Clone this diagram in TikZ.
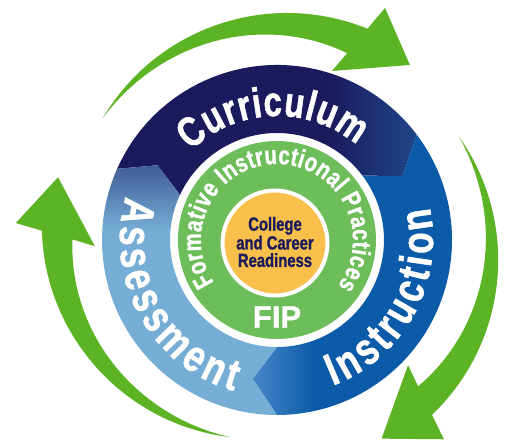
\documentclass[tikz,border=0pt]{standalone}
\usepackage{fontspec}
\usetikzlibrary{decorations.text}
\newfontfamily\condsans[FakeStretch=0.78,FakeBold=1.2]{Liberation Sans}
\newfontfamily\plainsans[FakeBold=1]{Liberation Sans}
\definecolor{currnavy}{RGB}{27,26,92}
\definecolor{currblue}{RGB}{30,70,136}
\definecolor{instblue}{RGB}{12,91,168}
\definecolor{instlight}{RGB}{70,135,200}
\definecolor{assesslight}{RGB}{118,173,213}
\definecolor{assessdark}{RGB}{64,93,150}
\definecolor{fipgreen}{RGB}{109,189,91}
\definecolor{ccrorange}{RGB}{248,192,74}
\definecolor{arrowgreen}{RGB}{92,180,36}
\definecolor{ccrtext}{RGB}{28,27,92}
\pgfdeclarehorizontalshading{currshade}{100bp}{color(0bp)=(currnavy); color(60bp)=(currnavy); color(75bp)=(currblue); color(100bp)=(currblue)}
\pgfdeclarehorizontalshading{instshade}{100bp}{color(0bp)=(instlight); color(25bp)=(instlight); color(39bp)=(instblue); color(100bp)=(instblue)}
\pgfdeclareverticalshading{assessshade}{100bp}{color(0bp)=(assesslight); color(62bp)=(assesslight); color(75bp)=(assessdark); color(100bp)=(assessdark)}
\newcommand{\ringtxt}{\condsans\bfseries\fontsize{42}{44}\selectfont}
\newcommand{\sidetxt}{\condsans\bfseries\fontsize{45}{47}\selectfont}
\newcommand{\bandtxt}{\condsans\bfseries\fontsize{26}{28}\selectfont}
\begin{document}
\begin{tikzpicture}[x=1pt,y=1pt]
\tikzset{ringtext/.style={decorate,decoration={text along path,text color=white,text align=fit to path,text={|\ringtxt|#1}}},
  sidetext/.style={decorate,decoration={text along path,text color=white,text align=fit to path,text={|\sidetxt|#1}}},
  bandtext/.style={decorate,decoration={text along path,text color=white,text align=fit to path,text={|\bandtxt|#1}}}}
\path[fill=white] (0,0) rectangle (506,440);
\useasboundingbox (0,0) rectangle (506,440);
% green cycle arrows
\foreach \ax/\ay/\rot in {287/213/0,284.2/179.9/-114.2,255.8/215.3/113.7}
  \fill[arrowgreen,shift={(\ax,\ay)},rotate=\rot] (149.4:214) arc[start angle=149.4,end angle=67.9,radius=214]
    -- (65.9:240) -- (52.8:203.4) -- (73.9:162.4) -- (70.9:184)
    -- plot[domain=70.9:149.4,samples=30,variable=\t] (\t:{214-30*(149.4-\t)/78.5}) -- cycle;
\begin{scope}[shift={(277,200)}]
% ring segments
\shade[shading=currshade] (156:175) arc[start angle=156,end angle=37,radius=175] -- (27:141) -- (37:107)
  arc[start angle=37,end angle=155,radius=107] -- (148:141) -- cycle;
\shade[shading=instshade] (37:175) arc[start angle=37,end angle=-90,radius=175] -- (-100:141) -- (-90:107)
  arc[start angle=-90,end angle=37,radius=107] -- (27:141) -- cycle;
\shade[shading=assessshade] (-90:175) arc[start angle=-90,end angle=-204,radius=175] -- (-212:141) -- (-205:107)
  arc[start angle=-205,end angle=-90,radius=107] -- (-100:141) -- cycle;
\fill[fipgreen] (0,0) circle[radius=99];
% curved labels
\path[ringtext=Curriculum] (134:124) arc[start angle=134,end angle=50,radius=124];
\path[sidetext=Instruction] (-69:156) arc[start angle=-69,end angle=12,radius=156];
\path[sidetext=Assessment] (164:157) arc[start angle=164,end angle=254,radius=157];
\path[bandtext=Formative Instructional Practices] (214:76) arc[start angle=214,end angle=-37,radius=76];
\end{scope}
\draw[white,line width=4,fill=ccrorange] (275,197) circle[radius=52.5];
\node[text=ccrtext,font=\condsans\bfseries\fontsize{19}{17.5}\selectfont,align=center](ccr) at (275,198) {College\\and Career\\Readiness};
\node[text=white,font=\plainsans\bfseries\fontsize{31}{31}\selectfont](fip) at (277,123) {FIP};
\end{tikzpicture}
\end{document}
